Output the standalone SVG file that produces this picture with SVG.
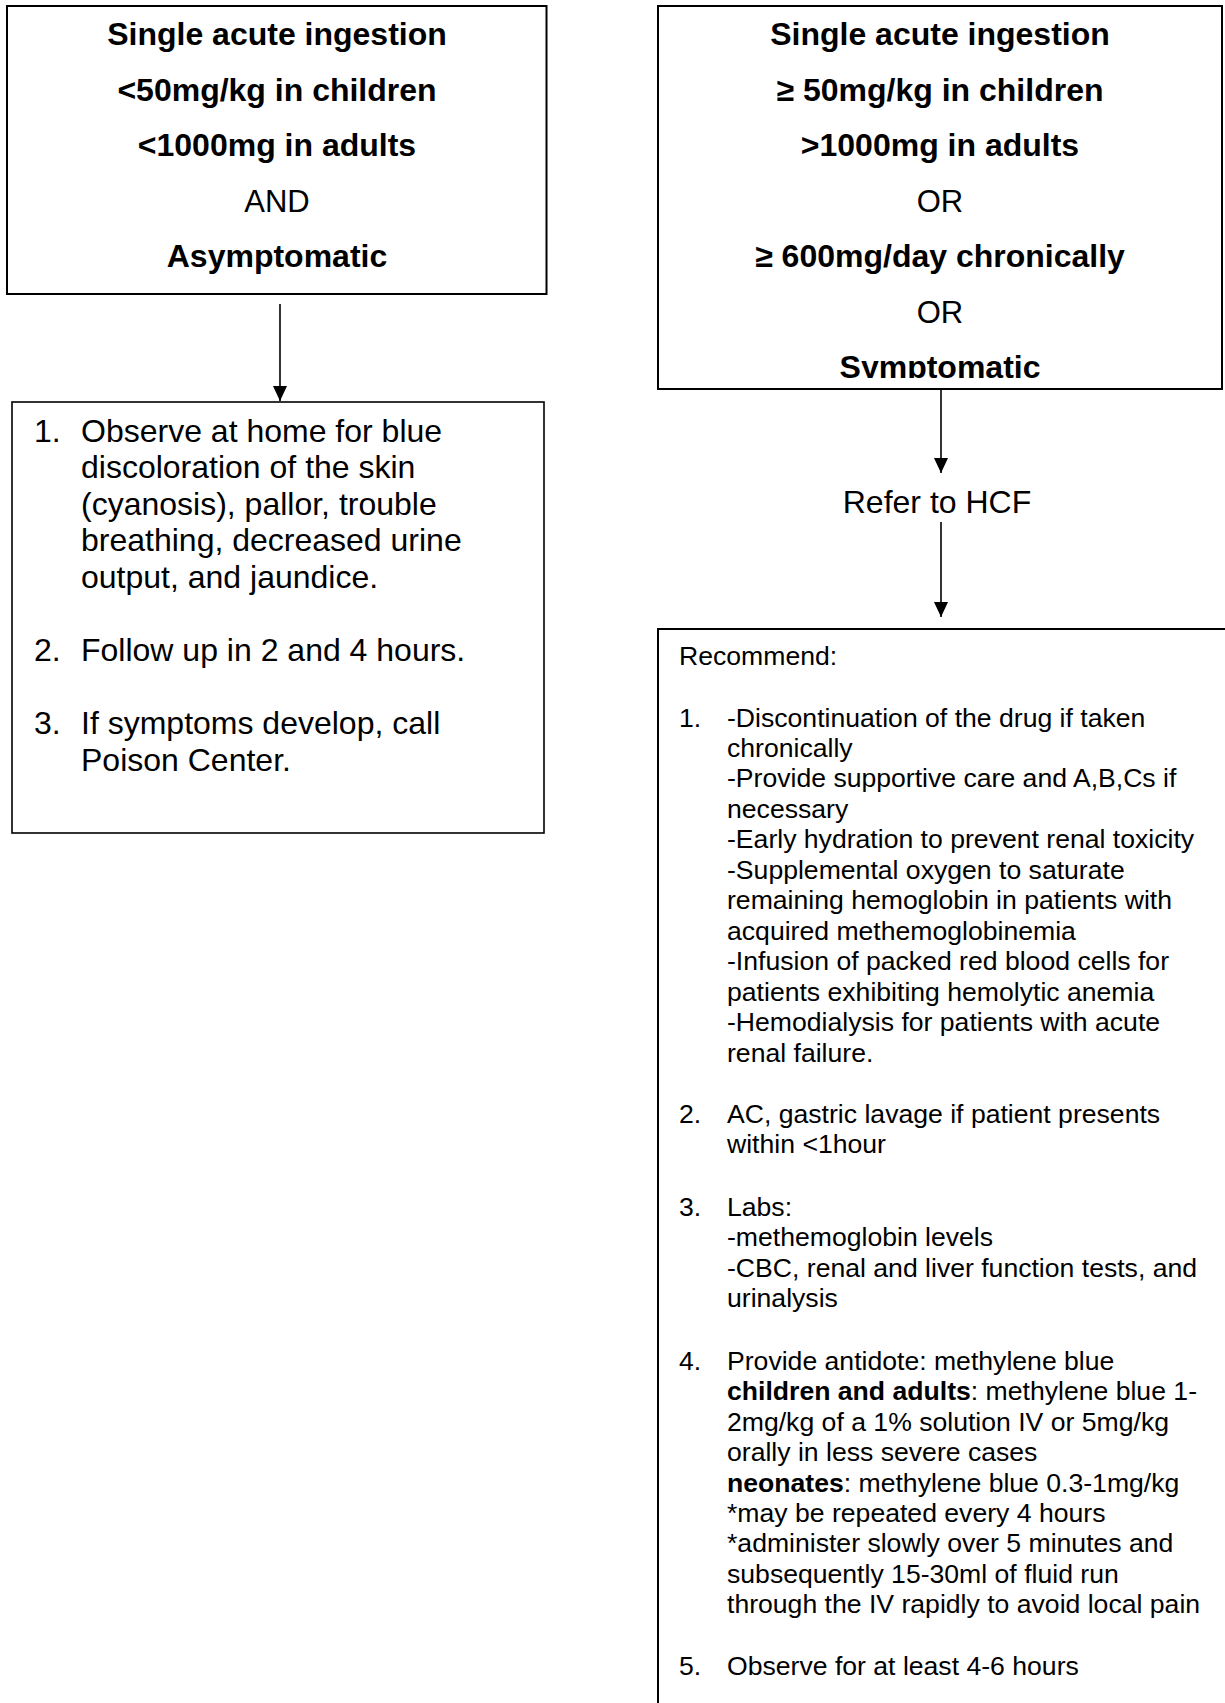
<svg xmlns="http://www.w3.org/2000/svg" width="1225" height="1703" viewBox="0 0 1225 1703">
<style>
.box{fill:#fff;stroke:#000;stroke-width:2}
.box2{fill:#fff;stroke:#000;stroke-width:1.6}
.hb{font-family:"Liberation Sans",Arial,sans-serif;font-weight:bold;font-size:32px;text-anchor:middle;fill:#000}
.hn{font-family:"Liberation Sans",Arial,sans-serif;font-size:31px;text-anchor:middle;fill:#000}
.l{font-family:"Liberation Sans",Arial,sans-serif;font-size:32px;fill:#000}
.r{font-family:"Liberation Sans",Arial,sans-serif;font-size:26.6px;fill:#000}
.conn{stroke:#000;stroke-width:1.6;fill:none}
</style>
<defs>
<marker id="ah" viewBox="0 0 15 14" refX="15" refY="7" markerWidth="15" markerHeight="14" markerUnits="userSpaceOnUse" orient="auto">
<path d="M0,0 L15,7 L0,14 Z" fill="#000"/>
</marker>
<clipPath id="clipR"><rect x="658" y="6" width="564" height="372"/></clipPath>
</defs>
<rect width="1225" height="1703" fill="#fff"/>

<g id="node-left-criteria">
<rect class="box" x="7" y="6" width="539.5" height="288"/>
<text class="hb" x="277" y="45">Single acute ingestion</text>
<text class="hb" x="277" y="101">&lt;50mg/kg in children</text>
<text class="hb" x="277" y="156">&lt;1000mg in adults</text>
<text class="hn" x="277" y="212">AND</text>
<text class="hb" x="277" y="267">Asymptomatic</text>
</g>

<g id="node-left-actions">
<rect class="box2" x="12" y="402" width="532" height="431"/>
<g class="l">
<text x="34" y="442">1.</text>
<text x="81" y="442">Observe at home for blue</text>
<text x="81" y="478">discoloration of the skin</text>
<text x="81" y="515">(cyanosis), pallor, trouble</text>
<text x="81" y="551">breathing, decreased urine</text>
<text x="81" y="588">output, and jaundice.</text>
<text x="34" y="661">2.</text>
<text x="81" y="661">Follow up in 2 and 4 hours.</text>
<text x="34" y="734">3.</text>
<text x="81" y="734">If symptoms develop, call</text>
<text x="81" y="771">Poison Center.</text>
</g>
</g>

<g id="node-right-criteria">
<rect class="box" x="658" y="6" width="564" height="383"/>
<g clip-path="url(#clipR)">
<text class="hb" x="940" y="45">Single acute ingestion</text>
<text class="hb" x="940" y="101">≥ 50mg/kg in children</text>
<text class="hb" x="940" y="156">&gt;1000mg in adults</text>
<text class="hn" x="940" y="212">OR</text>
<text class="hb" x="940" y="267">≥ 600mg/day chronically</text>
<text class="hn" x="940" y="323">OR</text>
<text class="hb" x="940" y="378">Symptomatic</text>
</g>
</g>

<g id="node-refer">
<text class="hn" x="937" y="513" style="font-size:32px">Refer to HCF</text>
</g>

<g id="node-right-recommend">
<rect class="box" x="658" y="629" width="580" height="1090"/>
<g class="r">
<text x="679" y="665">Recommend:</text>
<text x="679" y="727">1.</text>
<text x="727" y="727">-Discontinuation of the drug if taken</text>
<text x="727" y="757">chronically</text>
<text x="727" y="787">-Provide supportive care and A,B,Cs if</text>
<text x="727" y="818">necessary</text>
<text x="727" y="848">-Early hydration to prevent renal toxicity</text>
<text x="727" y="879">-Supplemental oxygen to saturate</text>
<text x="727" y="909">remaining hemoglobin in patients with</text>
<text x="727" y="940">acquired methemoglobinemia</text>
<text x="727" y="970">-Infusion of packed red blood cells for</text>
<text x="727" y="1001">patients exhibiting hemolytic anemia</text>
<text x="727" y="1031">-Hemodialysis for patients with acute</text>
<text x="727" y="1062">renal failure.</text>
<text x="679" y="1123">2.</text>
<text x="727" y="1123">AC, gastric lavage if patient presents</text>
<text x="727" y="1153">within &lt;1hour</text>
<text x="679" y="1216">3.</text>
<text x="727" y="1216">Labs:</text>
<text x="727" y="1246">-methemoglobin levels</text>
<text x="727" y="1277">-CBC, renal and liver function tests, and</text>
<text x="727" y="1307">urinalysis</text>
<text x="679" y="1370">4.</text>
<text x="727" y="1370">Provide antidote: methylene blue</text>
<text x="727" y="1400"><tspan font-weight="bold">children and adults</tspan>: methylene blue 1-</text>
<text x="727" y="1431">2mg/kg of a 1% solution IV or 5mg/kg</text>
<text x="727" y="1461">orally in less severe cases</text>
<text x="727" y="1492"><tspan font-weight="bold">neonates</tspan>: methylene blue 0.3-1mg/kg</text>
<text x="727" y="1522">*may be repeated every 4 hours</text>
<text x="727" y="1552">*administer slowly over 5 minutes and</text>
<text x="727" y="1583">subsequently 15-30ml of fluid run</text>
<text x="727" y="1613">through the IV rapidly to avoid local pain</text>
<text x="679" y="1675">5.</text>
<text x="727" y="1675">Observe for at least 4-6 hours</text>
</g>
</g>

<g id="connectors">
<line class="conn" x1="280" y1="304" x2="280" y2="401" marker-end="url(#ah)"/>
<line class="conn" x1="941" y1="390" x2="941" y2="473" marker-end="url(#ah)"/>
<line class="conn" x1="941" y1="522" x2="941" y2="617" marker-end="url(#ah)"/>
</g>
</svg>
